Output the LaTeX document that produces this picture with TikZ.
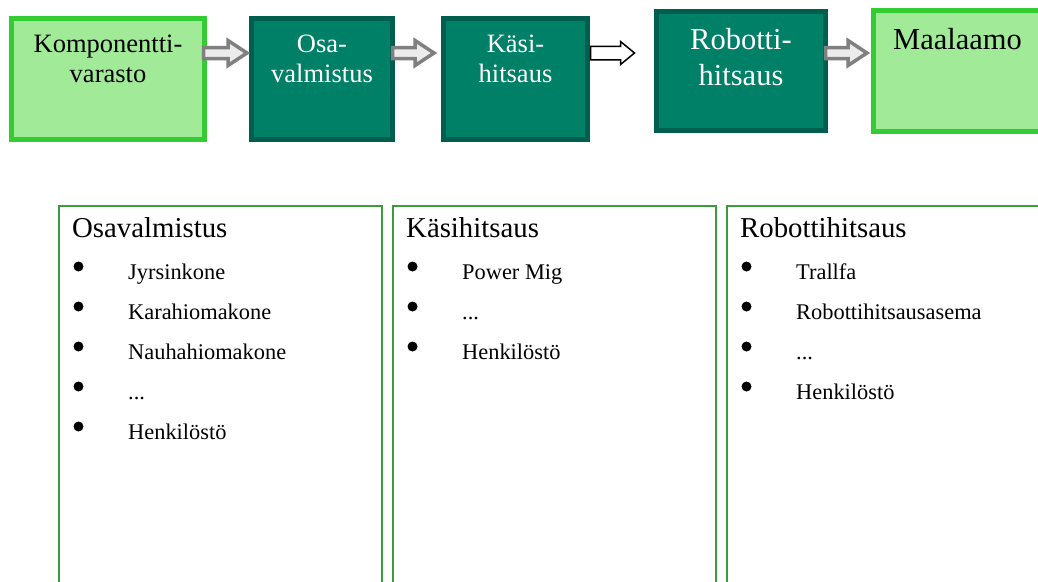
\documentclass[tikz,border=0pt]{standalone}
\usepackage{fontspec}
\setmainfont{Liberation Serif}
\usetikzlibrary{calc}
\definecolor{stockgreen}{RGB}{160,234,152}
\definecolor{stockedge}{RGB}{51,204,51}
\definecolor{phaseteal}{RGB}{0,128,102}
\definecolor{phaseedge}{RGB}{0,94,78}
\definecolor{paneledge}{RGB}{60,156,60}
\definecolor{flowgray}{RGB}{128,128,128}
\definecolor{flowfill}{RGB}{236,236,236}
\tikzset{
  stock-box/.style={
    draw=stockedge,
    fill=stockgreen,
    line width=5pt,
    inner sep=0pt,
    outer sep=0pt
  },
  phase-box/.style={
    draw=phaseedge,
    fill=phaseteal,
    line width=5pt,
    inner sep=0pt,
    outer sep=0pt
  },
  box-text/.style={anchor=base, align=center, inner sep=0pt,
    font=\fontsize{26.5}{30}\selectfont},
  big-text/.style={box-text, font=\fontsize{30.5}{36}\selectfont},
  panel/.style={
    draw=paneledge,
    line width=2pt,
    inner sep=0pt,
    outer sep=0pt,
    anchor=north west
  },
  panel-head/.style={anchor=base west, inner sep=0pt,
    font=\fontsize{28.8}{34}\selectfont},
  panel-item/.style={anchor=base west, inner sep=0pt,
    font=\fontsize{22.4}{27}\selectfont},
  shaft half/.store in=\shafthalf,
  head half/.store in=\headhalf,
  head length/.store in=\headlength,
  grayflow/.style={draw=flowgray, fill=flowfill, line width=3.5pt,
    shaft half=5.5, head half=12.5, head length=19},
  blackflow/.style={draw=black, fill=white, line width=1.5pt,
    shaft half=6.75, head half=11.5, head length=14}
}
% block arrow: from, to, start shift, gap before target
\newcommand{\flowarrow}[5][grayflow]{%
  \draw[#1] let \p1=(#2.east |- flowline), \p2=(#3.west |- flowline) in
    (\x1+#4,\y1+\shafthalf) -- (\x2-#5-\headlength,\y1+\shafthalf)
    -- (\x2-#5-\headlength,\y1+\headhalf) -- (\x2-#5,\y1)
    -- (\x2-#5-\headlength,\y1-\headhalf) -- (\x2-#5-\headlength,\y1-\shafthalf)
    -- (\x1+#4,\y1-\shafthalf) -- cycle;
}
\newcommand{\threedots}{...}
% list under a panel: panel name, items
\newcommand{\panelitems}[2]{%
  \foreach \entry [count=\k] in {#2} {
    \fill ($(#1.north west)+(19.5,60.5+40*\k-40)$) circle (5);
    \node[panel-item] (#1-item\k) at ($(#1.north west)+(69,73+40*\k-40)$) {\entry};
  }
}

\begin{document}
\begin{tikzpicture}[x=1pt,y=-1pt]
  \useasboundingbox (0,0) rectangle (1038,581);
  \coordinate (flowline) at (0,53);

  % process chain
  \node[stock-box, minimum width=193pt, minimum height=121pt] (komp) at (108,79) {};
  \node[phase-box, minimum width=141pt, minimum height=121pt] (osa) at (322,79) {};
  \node[phase-box, minimum width=144pt, minimum height=121pt] (kasi) at (515.5,79) {};
  \node[phase-box, minimum width=169pt, minimum height=119pt] (robo) at (741,71) {};
  \node[stock-box, minimum width=195pt, minimum height=121pt, anchor=west] (maal) at (873.5,71) {};

  % base of a two-line text is its last line
  \node[box-text] (komp-text) at (komp.north |- 0,82) {Komponentti-\\varasto};
  \node[box-text, white] (osa-text) at (osa.north |- 0,82) {Osa-\\valmistus};
  \node[box-text, white] (kasi-text) at (kasi.north |- 0,82) {Käsi-\\hitsaus};
  \node[big-text, white] (robo-text) at (robo.north |- 0,85) {Robotti-\\hitsaus};
  \node[big-text, anchor=base west] (maal-text) at (893,49) {Maalaamo};

  \flowarrow{komp}{osa}{-1}{4.5}
  \flowarrow{osa}{kasi}{0}{9.5}
  \flowarrow[blackflow]{kasi}{robo}{3}{22}
  \flowarrow{robo}{maal}{0}{6.5}

  % resource panels
  \node[panel, minimum width=323pt, minimum height=400pt] (p-osa) at (59,206) {};
  \node[panel, minimum width=323pt, minimum height=400pt] (p-kasi) at (393,206) {};
  \node[panel, minimum width=323pt, minimum height=400pt] (p-robo) at (727,206) {};

  \node[panel-head] (p-osa-head) at ($(p-osa.north west)+(13,31.5)$) {Osavalmistus};
  \node[panel-head] (p-kasi-head) at ($(p-kasi.north west)+(13,31.5)$) {Käsihitsaus};
  \node[panel-head] (p-robo-head) at ($(p-robo.north west)+(13,31.5)$) {Robottihitsaus};

  \panelitems{p-osa}{Jyrsinkone, Karahiomakone, Nauhahiomakone, \threedots, Henkilöstö}
  \panelitems{p-kasi}{Power Mig, \threedots, Henkilöstö}
  \panelitems{p-robo}{Trallfa, Robottihitsausasema, \threedots, Henkilöstö}
\end{tikzpicture}
\end{document}
